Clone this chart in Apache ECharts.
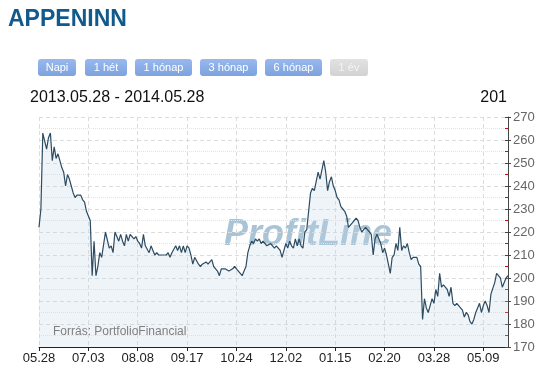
<!DOCTYPE html>
<html><head><meta charset="utf-8">
<script src="https://cdn.jsdelivr.net/npm/echarts@6/dist/echarts.min.js"></script>
<style>html,body{margin:0;padding:0;background:#fff}#c{width:552px;height:375px}</style>
</head><body><div id="c"></div>
<script>
// ---- data ----
const titleText = 'APPENINN';
const rangeText = '2013.05.28 - 2014.05.28';
const lastValueText = '201';
const sourceText = 'Forrás: PortfolioFinancial';
const watermarkText = 'ProfitLine';
const buttonLabels = ['Napi', '1 hét', '1 hónap', '3 hónap', '6 hónap', '1 év'];
const startDate = '2013-05-28';
const endDate = '2014-05-28';
const holidays = ['2013-08-19','2013-08-20','2013-10-23','2013-11-01','2013-12-24','2013-12-25',
  '2013-12-26','2013-12-27','2013-12-31','2014-01-01','2014-04-18','2014-04-21','2014-05-01','2014-05-02'];
const yMin = 170, yMax = 270, yStep = 10;
const labelEvery = 26;
const prices = [
  222,230,263,263,256,261,263,251,257,252,
  254,251,248,246,240,245,243,240,237,235,
  236,236,236,234,233,229,227,225,201,216,
  201,205,211,209,209,220,220,213,214,211,
  220,218,216,219,216,214,219,216,219,219,
  217,218,216,215,213,219,214,214,211,214,
  212,210,211,210,210,210,210,210,211,209,
  211,211,214,212,214,211,214,211,214,213,
  210,206,209,209,206,205,206,206,207,206,
  207,208,205,204,203,201,204,204,204,204,
  203,203,204,205,204,203,202,201,203,205,
  211,214,216,215,217,216,217,215,216,215,
  214,214,215,214,213,214,213,212,209,212,
  215,213,216,214,213,217,214,217,214,213,
  220,221,221,237,239,238,242,246,243,247,
  251,246,238,242,244,240,238,235,234,231,
  230,229,227,222,223,224,225,226,225,222,
  220,221,222,221,220,219,210,217,219,219,
  215,211,213,210,206,202,209,210,215,212,
  222,212,214,213,215,211,208,209,209,209,
  206,205,182,191,187,185,188,191,189,195,
  192,202,196,197,196,195,192,196,189,188,
  189,188,188,186,183,185,184,181,180,182,
  185,187,189,185,188,190,188,185,193,193,
  198,202,201,200,196,198,200,201
];

// trading-day categories
const dates = [];
(function () {
  let t = Date.parse(startDate + 'T00:00:00Z');
  const end = Date.parse(endDate + 'T00:00:00Z');
  while (t <= end) {
    const d = new Date(t);
    const wd = d.getUTCDay();
    const iso = d.toISOString().slice(0, 10);
    if (wd !== 0 && wd !== 6 && holidays.indexOf(iso) < 0) dates.push(iso);
    t += 86400000;
  }
})();

const FONT = '"Liberation Sans", Arial, Helvetica, sans-serif';
const chart = echarts.init(document.getElementById('c'), null, {renderer: 'canvas'});

const btnBoxes = [[38,76],[85,127],[135,192],[200,257],[265,322],[330,368]];
const graphics = [];
graphics.push({type:'text', left: 8, top: 8, z: 10,
  style:{text: titleText, font: 'bold 23px ' + FONT, fill: '#12598c'}});
buttonLabels.forEach((b, i) => {
  const [x0, x1] = btnBoxes[i];
  const disabled = i === buttonLabels.length - 1;
  graphics.push({type:'rect', z: 10, shape:{x:x0, y:59, width:x1-x0, height:17, r:3},
    style:{fill: disabled ? new echarts.graphic.LinearGradient(0,0,0,1,[{offset:0,color:'#e2e2e2'},{offset:1,color:'#d2d2d2'}])
                          : new echarts.graphic.LinearGradient(0,0,0,1,[{offset:0,color:'#98b9ee'},{offset:1,color:'#7da2df'}])}});
  graphics.push({type:'text', z: 11, x:(x0+x1)/2, y:67.5,
    style:{text:b, font:'11px ' + FONT, fill: disabled ? '#f4f4f4' : '#ffffff', align:'center', verticalAlign:'middle'}});
});
graphics.push({type:'text', z: 10, x: 30, y: 97.5,
  style:{text: rangeText, font:'16px ' + FONT, fill:'#111', verticalAlign:'middle'}});
graphics.push({type:'text', z: 10, x: 507, y: 97.5,
  style:{text: lastValueText, font:'16px ' + FONT, fill:'#111', align:'right', verticalAlign:'middle'}});
graphics.push({type:'text', z: 0, x: 224, y: 235,
  style:{text: watermarkText, font:'italic bold 36px ' + FONT, fill:'#a9c4d7', verticalAlign:'middle'}});
graphics.push({type:'text', z: 10, x: 53, y: 332,
  style:{text: sourceText, font:'12px ' + FONT, fill:'#7f7f7f', verticalAlign:'middle'}});

chart.setOption({
  animation: false,
  backgroundColor: '#ffffff',
  textStyle: {fontFamily: FONT},
  grid: {left: 39, right: 44, top: 117, bottom: 28, containLabel: false, outerBoundsMode: 'none'},
  graphic: graphics,
  xAxis: {
    type: 'category', data: dates, boundaryGap: false,
    axisLine: {show: true, lineStyle: {color: '#222', width: 1}},
    axisTick: {show: true, interval: labelEvery - 1, length: 4, lineStyle: {color: '#222'}},
    axisLabel: {interval: labelEvery - 1, margin: 5, fontSize: 13, color: '#222', fontFamily: FONT,
      hideOverlap: false, formatter: v => v.slice(5, 7) + '.' + v.slice(8, 10)},
    splitLine: {show: true, interval: labelEvery - 1, lineStyle: {color: '#dcdcdc', type: [4, 3]}}
  },
  yAxis: [{
    type: 'value', position: 'right', min: yMin, max: yMax, interval: yStep,
    axisLine: {show: true, lineStyle: {color: '#444', width: 1}},
    axisTick: {show: true, inside: true, length: 3, lineStyle: {color: '#444'}},
    minorTick: {show: true, splitNumber: 2, length: 3, lineStyle: {color: '#e00000'}},
    axisLabel: {margin: 5, fontSize: 13, color: '#666', fontFamily: FONT},
    splitLine: {show: true, lineStyle: {color: '#dcdcdc', type: [4, 3]}},
    minorSplitLine: {show: true, lineStyle: {color: '#e4e4e4', type: [1, 1]}}
  }, {
    type: 'value', position: 'right', offset: 0, min: yMin, max: yMax, interval: yStep,
    axisLine: {show: false},
    axisTick: {show: true, inside: false, length: 3, lineStyle: {color: '#444'}},
    axisLabel: {show: false},
    splitLine: {show: false}
  }],
  series: [{
    type: 'line', data: prices, yAxisIndex: 0, symbol: 'none', smooth: false,
    lineStyle: {color: '#2d4b61', width: 1.2},
    areaStyle: {color: 'rgba(190,212,232,0.36)', origin: 'start'},
    z: 3
  }]
});
</script>
</body></html>
